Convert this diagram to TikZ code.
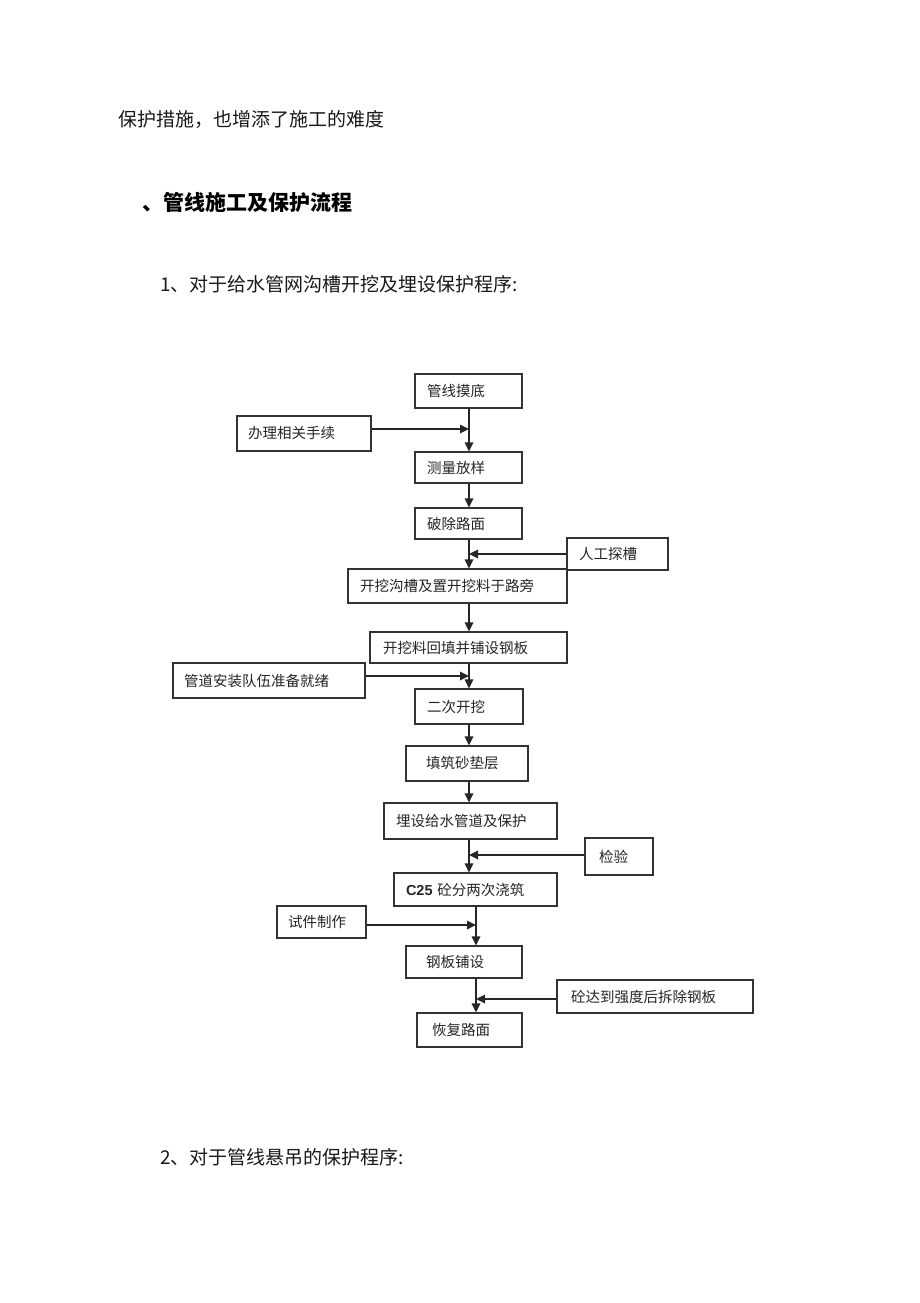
\documentclass[tikz,border=0pt]{standalone}
\usepackage{fontspec}
\newfontfamily\cjk{Noto Sans CJK SC}
\newfontfamily\arial{Liberation Sans}
\usetikzlibrary{arrows.meta}
\begin{document}
\begin{tikzpicture}[x=1pt,y=-1pt,
  bx/.style={draw=black!80, line width=1.1pt, inner ysep=0pt, align=left,
    font=\cjk\fontsize{14.5}{16}\selectfont, text=black!85},
  conn/.style={draw=black!85, line width=1.7pt, -{Triangle[length=9pt,width=8.5pt]}},
  body/.style={anchor=base west, inner sep=0pt, font=\cjk\fontsize{19}{22}\selectfont, text=black!90},
  head/.style={anchor=base west, inner sep=0pt, font=\cjk\bfseries\fontsize{21}{24}\selectfont, text=black}]
\useasboundingbox[fill=white] (0,0) rectangle (920,1303);

% body texts
\node[body] (t1) at (118,127) {保护措施，也增添了施工的难度};
\node[head] (t2) at (142,210) {、管线施工及保护流程};
\node[body] (t3) at (160,291) {1、对于给水管网沟槽开挖及埋设保护程序:};
\node[body] (t4) at (160,1164) {2、对于管线悬吊的保护程序:};

% boxes
\node[bx, minimum width=107, minimum height=34, inner xsep=12, text width=83] (n1) at (468.5,391) {管线摸底};
\node[bx, minimum width=134, minimum height=35, inner xsep=11, text width=112] (n2) at (304,433.5) {办理相关手续};
\node[bx, minimum width=107, minimum height=31, inner xsep=12, text width=83] (n3) at (468.5,467.5) {测量放样};
\node[bx, minimum width=107, minimum height=31, inner xsep=12, text width=83] (n4) at (468.5,523.5) {破除路面};
\node[bx, minimum width=101, minimum height=32, inner xsep=12, text width=77] (n5) at (617.5,554) {人工探槽};
\node[bx, minimum width=219, minimum height=34, inner xsep=12, text width=195] (n6) at (457.5,586) {开挖沟槽及置开挖料于路旁};
\node[bx, minimum width=197, minimum height=31, inner xsep=13, text width=171] (n7) at (468.5,647.5) {开挖料回填并铺设钢板};
\node[bx, minimum width=192, minimum height=35, inner xsep=11, text width=170] (n8) at (269,680.5) {管道安装队伍准备就绪};
\node[bx, minimum width=108, minimum height=35, inner xsep=12, text width=84] (n9) at (469,706.5) {二次开挖};
\node[bx, minimum width=122, minimum height=35, inner xsep=20, text width=82] (n10) at (467,763.5) {填筑砂垫层};
\node[bx, minimum width=173, minimum height=36, inner xsep=12, text width=149] (n11) at (470.5,821) {埋设给水管道及保护};
\node[bx, minimum width=68, minimum height=37, inner xsep=14, text width=40] (n12) at (619,856.5) {检验};
\node[bx, minimum width=163, minimum height=33, inner xsep=12, text width=139] (n13) at (475.5,889.5) {{\arial\bfseries C25} 砼分两次浇筑};
\node[bx, minimum width=89, minimum height=32, inner xsep=11, text width=67] (n14) at (321.5,922) {试件制作};
\node[bx, minimum width=116, minimum height=32, inner xsep=20, text width=76] (n15) at (464,962) {钢板铺设};
\node[bx, minimum width=196, minimum height=33, inner xsep=14, text width=168] (n16) at (655,996.5) {砼达到强度后拆除钢板};
\node[bx, minimum width=105, minimum height=34, inner xsep=15, text width=75] (n17) at (469.5,1030) {恢复路面};

% main line columns and junctions
\coordinate (ca) at (469,0);
\coordinate (cb) at (476,0);
\coordinate (j1) at (469,429);
\coordinate (j2) at (469,554);
\coordinate (j3) at (469,676);
\coordinate (j4) at (469,855);
\coordinate (j5) at (476,925);
\coordinate (j6) at (476,999);

% main flow
\draw[conn] (ca |- n1.south) -- (ca |- n3.north);
\draw[conn] (ca |- n3.south) -- (ca |- n4.north);
\draw[conn] (ca |- n4.south) -- (ca |- n6.north);
\draw[conn] (ca |- n6.south) -- (ca |- n7.north);
\draw[conn] (ca |- n7.south) -- (ca |- n9.north);
\draw[conn] (ca |- n9.south) -- (ca |- n10.north);
\draw[conn] (ca |- n10.south) -- (ca |- n11.north);
\draw[conn] (ca |- n11.south) -- (ca |- n13.north);
\draw[conn] (cb |- n13.south) -- (cb |- n15.north);
\draw[conn] (cb |- n15.south) -- (cb |- n17.north);

% side inputs
\draw[conn] (n2.east |- j1) -- (j1);
\draw[conn] (n5.west |- j2) -- (j2);
\draw[conn] (n8.east |- j3) -- (j3);
\draw[conn] (n12.west |- j4) -- (j4);
\draw[conn] (n14.east |- j5) -- (j5);
\draw[conn] (n16.west |- j6) -- (j6);
\end{tikzpicture}
\end{document}
